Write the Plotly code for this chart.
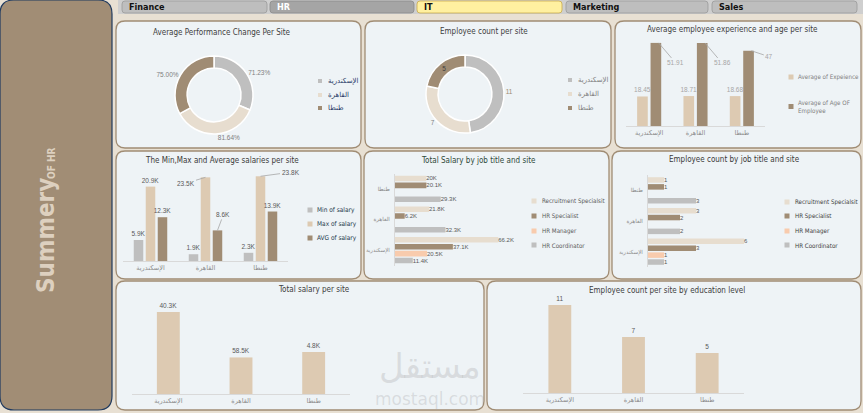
import plotly.graph_objects as go

W, H = 863, 413


def px_x(v):
    return v / W


def px_y(v):
    return 1 - v / H


# ---------------- data ----------------
sites = ["الإسكندرية", "القاهرة", "طنطا"]
tabs = ["Finance", "HR", "IT", "Marketing", "Sales"]
perf_change = [71.23, 81.64, 75.00]
emp_count = [11, 7, 5]
exp_avg = [18.45, 18.71, 18.68]
age_avg = [51.91, 51.86, 47]
sal_min = [5.9, 1.9, 2.3]
sal_max = [20.9, 23.5, 23.8]
sal_avg = [12.3, 8.6, 13.9]
jobs = ["HR Coordinator", "HR Manager", "HR Specialist", "Recruitment Specialsit"]
tot_coord = [11.4, 32.3, 29.3]
tot_manager = [20.5, None, None]
tot_specialist = [37.1, 6.2, 20.1]
tot_recruit = [66.2, 21.8, 20.0]
cnt_coord = [1, 2, 3]
cnt_manager = [1, None, None]
cnt_specialist = [3, 2, 1]
cnt_recruit = [6, 3, 1]
site_salary = [135.2, 60.3, 69.4]
site_salary_labels = ["40.3K", "58.5K", "4.8K"]
edu_count = [11, 7, 5]

# ---------------- styles ----------------
GRAY = "#BFBFBF"
BEIGE = "#E7DDCF"
TAN = "#DDCAB2"
BROWN = "#A08C74"
PEACH = "#F8CBAD"
PANEL_FILL = "#EEF3F6"
NARROW = "DejaVu Sans Condensed, Liberation Sans Narrow, sans-serif"
ARABIC = "DejaVu Sans, sans-serif"
NUM = "Liberation Sans, Arial, sans-serif"


def fmt_k(v):
    if v is None:
        return ""
    return f"{v:.1f}".rstrip("0").rstrip(".") + "K"


def fmt_n(v):
    if v is None:
        return ""
    return f"{v:g}"


def rr_path(x0, y0, x1, y1, r):
    def P(x, y):
        return f"{px_x(x):.5f},{px_y(y):.5f}"
    return (f"M {P(x0 + r, y0)} L {P(x1 - r, y0)} Q {P(x1, y0)} {P(x1, y0 + r)} "
            f"L {P(x1, y1 - r)} Q {P(x1, y1)} {P(x1 - r, y1)} "
            f"L {P(x0 + r, y1)} Q {P(x0, y1)} {P(x0, y1 - r)} "
            f"L {P(x0, y0 + r)} Q {P(x0, y0)} {P(x0 + r, y0)} Z")


shapes = []
annotations = []
layout = {}
fig = go.Figure()


def add_rr(x0, y0, x1, y1, r, fill, line, lw=1.0):
    shapes.append(dict(type="path", path=rr_path(x0, y0, x1, y1, r), xref="paper", yref="paper",
                       fillcolor=fill, line=dict(color=line, width=lw), layer="below"))


def add_text(x, y, text, size=9, color="#404040", family=NARROW, xanchor="center", yanchor="middle", **kw):
    annotations.append(dict(x=px_x(x), y=px_y(y), xref="paper", yref="paper", text=text,
                            showarrow=False, xanchor=xanchor, yanchor=yanchor,
                            font=dict(size=size, color=color, family=family), **kw))


def add_legend(names, colors, xsq, xtxt, ys, color, size=6.5, family=NARROW, sq=5):
    for n, c, y in zip(names, colors, ys):
        shapes.append(dict(type="rect", xref="paper", yref="paper",
                           x0=px_x(xsq - sq / 2), x1=px_x(xsq + sq / 2),
                           y0=px_y(y + sq / 2), y1=px_y(y - sq / 2),
                           fillcolor=c, line=dict(width=0), layer="above"))
        add_text(xtxt, y, n, size=size, color=color, family=family, xanchor="left", align="left")


# ---------------- background pieces ----------------
add_rr(0, 0, 112, 410, 14, "#A18D75", "#1F3A5F", 1.2)
add_text(46, 236, "<b>Summery</b>", size=24, color="#DDD0BF", textangle=-90)
add_text(52, 164, "<b>OF HR</b>", size=10, color="#DDD0BF", textangle=-90)

shapes.append(dict(type="rect", xref="paper", yref="paper", x0=px_x(118), x1=px_x(863),
                   y0=px_y(14), y1=px_y(0), fillcolor="#CFCFCF", line=dict(width=0), layer="below"))
tab_pos = [(122, 267), (270, 414), (417, 562), (566, 708), (712, 857)]
tab_fill = ["#BEBEBE", "#A5A5A5", "#FFF0A0", "#BEBEBE", "#BEBEBE"]
tab_line = ["#9A9A9A", "#8A8A8A", "#C9A94B", "#9A9A9A", "#9A9A9A"]
tab_txt = ["#111111", "#FFFFFF", "#111111", "#111111", "#111111"]
for name, (a, b), f, l, tc in zip(tabs, tab_pos, tab_fill, tab_line, tab_txt):
    add_rr(a, 1, b, 13, 3, f, l, 0.8)
    add_text(a + 5, 7, f"<b>{name}</b>", size=9, color=tc, xanchor="left")

panels = [(116, 21, 361, 148), (365, 21, 611, 148), (615, 21, 861, 148),
          (116, 151, 361, 279), (364, 151, 609, 279), (612, 151, 861, 279),
          (116, 281, 484, 410), (487, 281, 861, 410)]
for p in panels:
    add_rr(*p, 9, PANEL_FILL, BROWN, 1.3)

# ---------------- titles ----------------
TS = 8
add_text(222, 32, "Average Performance Change Per Site", size=TS, color="#404040")
add_text(484, 31, "Employee count per site", size=TS, color="#404040")
add_text(732, 30, "Average employee experience and age per site", size=TS, color="#404040")
add_text(222, 160, "The Min,Max and Average salaries per site", size=TS, color="#3A3A3A")
add_text(478, 160, "Total Salary by job title and site", size=TS, color="#2E4A3A")
add_text(734, 159, "Employee count by job title and site", size=TS, color="#3A3A3A")
add_text(314, 289, "Total salary per site", size=TS, color="#404040")
add_text(667, 290, "Employee count per site by education level", size=TS, color="#404040")

# ---------------- donuts ----------------
R = 39
fig.add_trace(go.Pie(
    labels=sites, values=perf_change, hole=0.69, sort=False, direction="clockwise", rotation=0,
    marker=dict(colors=[GRAY, BEIGE, BROWN], line=dict(color="white", width=1.5)),
    text=[f"{v:.2f}%" for v in perf_change], textinfo="text", textposition="outside",
    textfont=dict(size=6.5, color="#7F7F7F", family=NUM),
    domain=dict(x=[px_x(214 - R), px_x(214 + R)], y=[px_y(95 + R), px_y(95 - R)]),
    showlegend=False, hoverinfo="skip"))
fig.add_trace(go.Pie(
    labels=sites, values=emp_count, hole=0.69, sort=False, direction="clockwise", rotation=0,
    marker=dict(colors=[GRAY, BEIGE, BROWN], line=dict(color="white", width=1.5)),
    text=[fmt_n(v) for v in emp_count], textinfo="text",
    textposition=["outside", "outside", "inside"],
    textfont=dict(size=6.5, color=[BROWN, "#7F7F7F", "#404040"], family=NUM),
    insidetextorientation="horizontal",
    domain=dict(x=[px_x(465 - R), px_x(465 + R)], y=[px_y(94 + R), px_y(94 - R)]),
    showlegend=False, hoverinfo="skip"))

add_legend(sites, [GRAY, BEIGE, BROWN], 320, 326, [81, 95, 108], "#1F3864", size=7, family=ARABIC, sq=4)
add_legend(sites, [GRAY, BEIGE, BROWN], 570, 576, [80, 94, 108], "#808080", size=7, family=ARABIC, sq=4)


# ---------------- bar axes ----------------
def names(k):
    return ("x" if k == 1 else f"x{k}", "y" if k == 1 else f"y{k}",
            "xaxis" if k == 1 else f"xaxis{k}", "yaxis" if k == 1 else f"yaxis{k}")


def setup_axes(k, xpx, ypx, horizontal, vrange, tick_size=6.5):
    xn, yn, xa, ya = names(k)
    xdom = [px_x(xpx[0]), px_x(xpx[1])]
    ydom = [px_y(ypx[1]), px_y(ypx[0])]
    cat = dict(type="category", categoryorder="array", categoryarray=sites, range=[-0.5, 2.5],
               showgrid=False, zeroline=False, showline=True, linecolor="#D9D9D9", linewidth=1,
               tickfont=dict(family=ARABIC, size=tick_size, color="#8C8C8C"), fixedrange=True)
    val = dict(range=vrange, visible=False, fixedrange=True, showgrid=False, zeroline=False)
    if horizontal:
        layout[xa] = dict(domain=xdom, anchor=yn, **val)
        layout[ya] = dict(domain=ydom, anchor=xn, ticks="outside", ticklen=3,
                          tickcolor="rgba(0,0,0,0)", **cat)
    else:
        layout[xa] = dict(domain=xdom, anchor=yn, **cat)
        layout[ya] = dict(domain=ydom, anchor=xn, **val)
    return xn, yn


def add_bars(k, series, colors, texts, pitch, bw, horizontal, tcolor="#595959", tsize=6.5):
    xn, yn, _, _ = names(k)
    n = len(series)
    for i, (vals, c, t) in enumerate(zip(series, colors, texts)):
        off = (i - (n - 1) / 2) * pitch - bw / 2
        kw = dict(x=vals, y=sites, orientation="h") if horizontal else dict(x=sites, y=vals)
        fig.add_trace(go.Bar(**kw, xaxis=xn, yaxis=yn, marker=dict(color=c, line=dict(width=0)),
                             width=bw, offset=off, text=t, textposition="outside",
                             textfont=dict(size=tsize, color=tcolor, family=NUM),
                             constraintext="none", cliponaxis=False,
                             showlegend=False, hoverinfo="skip"))
    return [(i - (n - 1) / 2) * pitch for i in range(n)]


def leader(k, xval, yval, text, dx, dy, color="#7F7F7F"):
    xn, yn, _, _ = names(k)
    annotations.append(dict(x=xval, y=yval, xref=xn, yref=yn, text=text, showarrow=True,
                            arrowhead=0, arrowwidth=0.8, arrowcolor="#A6A6A6", standoff=0,
                            ax=dx, ay=dy, font=dict(size=6.5, color=color, family=NUM)))


# P3: experience & age
setup_axes(1, (626, 765), (41, 126), False, [0, 53.1])
centers = add_bars(1, [exp_avg, age_avg], [TAN, BROWN],
                   [[fmt_n(v) for v in exp_avg], ["", "", ""]], 0.29, 0.23, False, "#A6A6A6")
age_dx = [17, 17, 18]
age_dy = [20, 20, 6]
for i, v in enumerate(age_avg):
    leader(1, i + centers[1] + 0.06, v, fmt_n(v), age_dx[i], age_dy[i], "#A6A6A6")
add_legend(["Average of Expeience"], [TAN], 791, 796, [77], "#7F7F7F", size=6.2)
add_legend(["Average of Age OF<br>Employee"], [BROWN], 791, 796, [106.5], "#7F7F7F", size=6.2)

# P4: min / max / avg salaries
setup_axes(2, (123, 288), (172, 261), False, [0, 25])
max_leader = [None, (-20, 6), (30, -4)]
avg_leader = [None, (6, -16), None]
centers = add_bars(2, [sal_min, sal_max, sal_avg], [GRAY, TAN, BROWN],
                   [[fmt_k(v) for v in sal_min],
                    [fmt_k(v) if max_leader[i] is None else "" for i, v in enumerate(sal_max)],
                    [fmt_k(v) if avg_leader[i] is None else "" for i, v in enumerate(sal_avg)]],
                   0.218, 0.173, False)
for i, v in enumerate(sal_max):
    if max_leader[i]:
        leader(2, i + centers[1], v, fmt_k(v), *max_leader[i], "#595959")
for i, v in enumerate(sal_avg):
    if avg_leader[i]:
        leader(2, i + centers[2], v, fmt_k(v), *avg_leader[i], "#595959")
add_legend(["Min of salary", "Max of salary", "AVG of salary"], [GRAY, TAN, BROWN],
           310, 315, [210, 224, 238], "#1F3B4D")

# P5: total salary by job & site (horizontal)
setup_axes(3, (395, 512), (173.5, 265.5), True, [0, 75], tick_size=5.5)
add_bars(3, [tot_coord, tot_manager, tot_specialist, tot_recruit], [GRAY, PEACH, BROWN, BEIGE],
         [[fmt_k(v) for v in s] for s in [tot_coord, tot_manager, tot_specialist, tot_recruit]],
         0.225, 0.18, True, tsize=6)
add_legend(jobs[::-1], [BEIGE, BROWN, PEACH, GRAY], 534, 540, [201, 216, 231, 245], "#595959", size=6.2)

# P6: employee count by job & site (horizontal)
setup_axes(4, (648, 760), (175, 267), True, [0, 7], tick_size=5.5)
add_bars(4, [cnt_coord, cnt_manager, cnt_specialist, cnt_recruit], [GRAY, PEACH, BROWN, BEIGE],
         [[fmt_n(v) for v in s] for s in [cnt_coord, cnt_manager, cnt_specialist, cnt_recruit]],
         0.225, 0.18, True, tsize=6)
add_legend(jobs[::-1], [BEIGE, BROWN, PEACH, GRAY], 787, 793, [202, 216, 231, 245], "#404040", size=6.2)

# P7: total salary per site
setup_axes(5, (132, 350), (300, 394), False, [0, 155])
add_bars(5, [site_salary], [TAN], [site_salary_labels], 0, 0.315, False)

# P8: employee count per site by education level
setup_axes(6, (523, 744), (297, 393), False, [0, 12])
add_bars(6, [edu_count], [TAN], [[fmt_n(v) for v in edu_count]], 0, 0.31, False)

# watermark
add_text(430, 366, "مستقل", size=34, color="rgba(150,150,150,0.25)", family=ARABIC)
add_text(430, 399, "mostaql.com", size=17, color="rgba(150,150,150,0.25)", family="DejaVu Sans")

fig.update_layout(
    width=W, height=H, margin=dict(l=0, r=0, t=0, b=0, pad=0),
    paper_bgcolor="#E8E0D3", plot_bgcolor="rgba(0,0,0,0)",
    barmode="overlay", showlegend=False,
    shapes=shapes, annotations=annotations, **layout)

fig.write_html("out.html", config={"displayModeBar": False})
